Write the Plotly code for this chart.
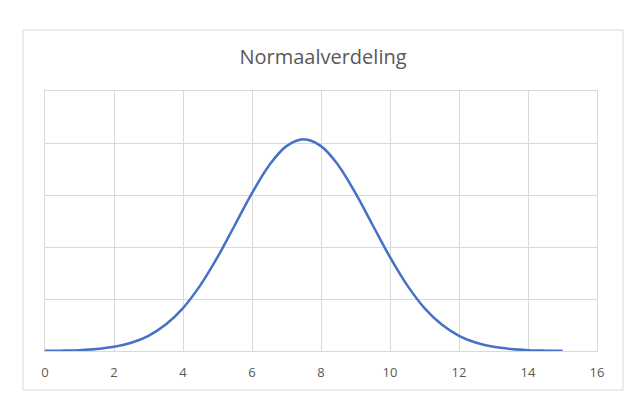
import plotly.graph_objects as go

x_values = [0, 0.5, 1, 1.5, 2, 2.5, 3, 3.5, 4, 4.5, 5, 5.5, 6, 6.5, 7, 7.5,
            8, 8.5, 9, 9.5, 10, 10.5, 11, 11.5, 12, 12.5, 13, 13.5, 14, 14.5, 15]
y_values = [0.00014, 0.00035, 0.00083, 0.0019, 0.0040, 0.0079, 0.0146, 0.0254,
            0.0413, 0.0631, 0.0902, 0.1209, 0.1518, 0.1787, 0.1970, 0.2035,
            0.1970, 0.1787, 0.1518, 0.1209, 0.0902, 0.0631, 0.0413, 0.0254,
            0.0146, 0.0079, 0.0040, 0.0019, 0.00083, 0.00035, 0.00014]
x_ticks = [0, 2, 4, 6, 8, 10, 12, 14, 16]
title_text = "Normaalverdeling"

W, H = 632, 403
L, R, T, B = 45, 35, 91, 52
pw, ph = W - L - R, H - T - B

fig = go.Figure()
fig.add_trace(go.Scatter(
    x=x_values, y=y_values, mode="lines",
    line=dict(color="#4472C4", width=2.5, shape="spline", smoothing=1),
    hoverinfo="skip", showlegend=False,
))

# chart border (pixel positions converted to paper fractions)
bx0, by0, bx1, by1 = 23, 30, 623, 390
fig.add_shape(type="rect", xref="paper", yref="paper",
              x0=(bx0 - L) / pw, x1=(bx1 - L) / pw,
              y0=(H - B - by1) / ph, y1=(H - B - by0) / ph,
              line=dict(color="#d9d9d9", width=1), layer="below")

fig.update_layout(
    width=W, height=H,
    margin=dict(l=L, r=R, t=T, b=B),
    paper_bgcolor="white", plot_bgcolor="white",
    title=dict(text=title_text, x=(323) / W, xanchor="center",
               y=1 - 57 / H, yanchor="middle", yref="container",
               font=dict(family="Open Sans", size=20, color="#595959")),
    font=dict(family="Open Sans", size=13, color="#595959"),
    xaxis=dict(range=[0, 16], tickvals=x_ticks, ticktext=[str(t) for t in x_ticks],
               showgrid=True, gridcolor="#d9d9d9", gridwidth=1,
               zeroline=False, showline=True, mirror=True,
               linecolor="#d9d9d9", linewidth=1,
               ticks="", ticklabelstandoff=9, fixedrange=True,
               tickfont=dict(family="Open Sans", size=13, color="#595959")),
    yaxis=dict(range=[0, 0.25], dtick=0.05, showticklabels=False,
               showgrid=True, gridcolor="#d9d9d9", gridwidth=1,
               zeroline=False, showline=True, mirror=True,
               linecolor="#d9d9d9", linewidth=1,
               ticks="", fixedrange=True),
)

fig.write_html("out.html")
